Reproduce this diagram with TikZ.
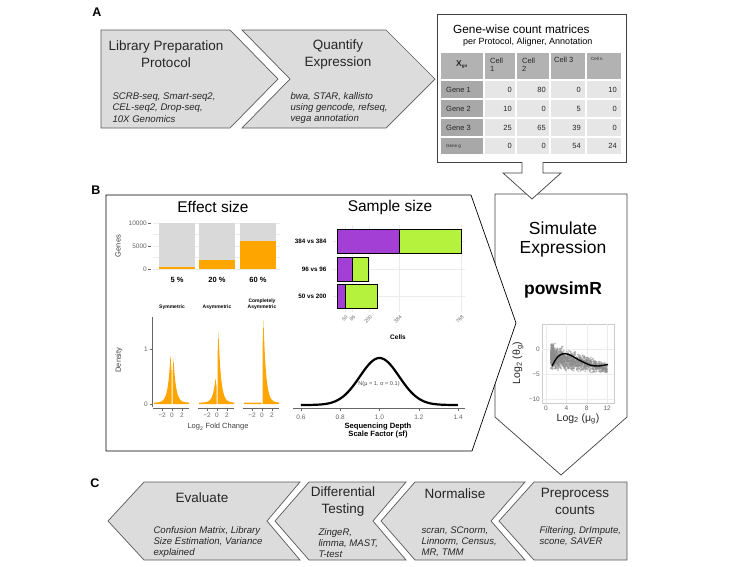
\documentclass[tikz,border=0pt]{standalone}
\usepackage{fontspec}
\setmainfont{Liberation Sans}
\usetikzlibrary{positioning}
\definecolor{chevgray}{HTML}{DCDCDC}
\definecolor{hdrgray}{HTML}{B2B2B2}
\definecolor{rowgray}{HTML}{A8A8A8}
\definecolor{cellgray}{HTML}{E6E6E6}
\definecolor{orng}{HTML}{FFA500}
\definecolor{purp}{HTML}{A43FD6}
\definecolor{lime}{HTML}{B5F23E}
\definecolor{bargray}{HTML}{D9D9D9}

\begin{document}
\begin{tikzpicture}[x=1pt, y=-1pt,
  chev/.style={draw=black!65, fill=chevgray, line width=0.7pt},
  outline/.style={draw=black!75, fill=white, line width=0.7pt},
  head/.style={font=\fontsize{13.5}{17}\selectfont, align=center, text=black!85},
  tools/.style={font=\fontsize{9.6}{11.2}\selectfont\itshape, align=left, anchor=west, text=black!85},
  panlab/.style={font=\fontsize{12.5}{14}\selectfont\bfseries},
  ptitle/.style={font=\fontsize{15.5}{17}\selectfont},
  cell/.style={font=\fontsize{7.5}{8.5}\selectfont, inner sep=1pt, text=black!85},
  tinycell/.style={font=\fontsize{4.5}{5}\selectfont, inner sep=1pt, text=black!85},
  tick/.style={font=\fontsize{6.5}{7}\selectfont, text=black!60, inner sep=1pt},
  axlab/.style={font=\fontsize{7.5}{8}\selectfont, text=black!75},
  boldlab/.style={font=\fontsize{7}{7.5}\selectfont\bfseries, align=center},
  gridln/.style={draw=black!8, line width=0.4pt},
  axln/.style={draw=black!60, line width=0.5pt}]
\useasboundingbox (0,0) rectangle (739,566);

% A
\node[panlab] (labA) at (97,12) {A};
\draw[chev] (101,30) -- (230,30) -- (278,79) -- (230,128) -- (101,128) -- cycle;
\draw[chev] (242,30) -- (386,30) -- (435,79) -- (386,128) -- (242,128) -- (290,79) -- cycle;
\node[head] (libprep) at (166,54) {Library Preparation\\Protocol};
\node[tools] (protocols) at (109,107.5) {SCRB-seq, Smart-seq2,\\CEL-seq2, Drop-seq,\\10X Genomics};
\node[head] (quant) at (338,55) {Quantify\\Expression};
\node[tools] (aligners) at (287,108) {bwa, STAR, kallisto\\using gencode, refseq,\\vega annotation};

\draw[outline, fill=none] (522,162) -- (437,162) -- (437,14) -- (626,14) -- (626,162) -- (543,162);
\node[font=\fontsize{11.8}{13}\selectfont, anchor=west, inner sep=0pt] (mattitle) at (453,29) {Gene-wise count matrices};
\node[font=\fontsize{9}{10}\selectfont, anchor=west, inner sep=0pt] (matsub) at (463,42) {per Protocol, Aligner, Annotation};
\foreach \xa/\xb [count=\c] in {440/484,484/516,516/550,550/586,586/622}
  \foreach \ya/\yb [count=\r] in {52/80,80/99,99/118,118/137,137/155} {
    \ifnum\r=1 \def\cc{hdrgray}\else\ifnum\c=1 \def\cc{rowgray}\else\def\cc{cellgray}\fi\fi
    \fill[\cc] (\xa+0.8,\ya+0.8) rectangle (\xb-0.8,\yb-0.8);
  }
\node[cell, font=\fontsize{8.5}{9}\selectfont\bfseries] (xgn) at (462,65) {X\textsubscript{\fontsize{4.5}{5}\selectfont gn}};
\node[cell, anchor=west, align=left] (cell1) at (489,65) {Cell\\1};
\node[cell, anchor=west, align=left] (cell2) at (521,65) {Cell\\2};
\node[cell, anchor=west] (cell3) at (553,60) {Cell 3};
\node[tinycell, anchor=west] (celln) at (590,59) {Cell n};
\foreach \g/\y in {1/89.5,2/108.5,3/127.5}
  \node[cell, anchor=west] (gene\g) at (445,\y) {Gene \g};
\node[tinycell, anchor=west] (geneg) at (445,146) {Gene g};
\foreach \v/\xr [count=\k] in {0/513,80/547,0/582,10/618} \node[cell, anchor=east] (ga\k) at (\xr,89.5) {\v};
\foreach \v/\xr [count=\k] in {10/513,0/547,5/582,0/618} \node[cell, anchor=east] (gb\k) at (\xr,108.5) {\v};
\foreach \v/\xr [count=\k] in {25/513,65/547,39/582,0/618} \node[cell, anchor=east] (gc\k) at (\xr,127.5) {\v};
\foreach \v/\xr [count=\k] in {0/513,0/547,54/582,24/618} \node[cell, anchor=east] (gd\k) at (\xr,146) {\v};

% simulate
\draw[outline] (495,194) -- (627,194) -- (627,417) -- (561,475) -- (495,417) -- cycle;
\node[font=\fontsize{17.5}{19}\selectfont, align=center] (simexpr) at (563,239.5) {Simulate\\Expression};
\node[font=\fontsize{17.5}{19}\selectfont\bfseries] (powsim) at (563,290) {powsimR};
\begin{scope}
  \draw[draw=black!20, line width=0.4pt] (542,324) rectangle (614,403);
  \foreach \gx in {546,566.4,586.8,607.2} \draw[gridln] (\gx,324) -- (\gx,403);
  \foreach \gy in {349,374,399} \draw[gridln] (542,\gy) -- (614,\gy);
  \clip (542,324) rectangle (614,403);
  \pgfmathsetseed{11}
  \foreach \i in {1,...,1400} {
    \pgfmathsetmacro\px{1+11*rnd^1.6}
    \pgfmathsetmacro\py{-1.3-0.22*\px+(1.1-0.055*\px)*(rand+rand+rand)}
    \fill[black!45, opacity=0.5] ({546+5.1*\px},{349-5*\py}) circle (1.05);
  }
  \draw[line width=1.4pt] plot[smooth] coordinates {(552,366) (556,359) (560,355) (565,353.5) (571,355.5) (580,360.5) (590,365) (598,366) (608,364.5)};
\end{scope}
\foreach \v/\s in {349/0,374/−5,399/−10} \node[tick, anchor=east] (sy\v) at (541,\v) {\s};
\foreach \v/\s in {546/0,566.4/4,586.8/8,607.2/12} \node[tick] (sx\s) at (\v,408.5) {\s};
\node[font=\fontsize{10.5}{11}\selectfont, text=black!85] (mulab) at (578,419) {Log\textsubscript{2} (μ\textsubscript{g})};
\node[font=\fontsize{10.5}{11}\selectfont, text=black!85, rotate=90] (thetalab) at (518,363) {Log\textsubscript{2} (θ\textsubscript{g})};

% B
\node[panlab] (labB) at (96,190) {B};
\draw[outline, draw=black] (106,195) -- (471,195) -- (516,323) -- (472,451) -- (106,451) -- cycle;
\node[ptitle] (effect) at (213,207) {Effect size};
\node[ptitle] (sample) at (390,207) {Sample size};

\foreach \v in {0,2500,...,10000} \draw[gridln] (153,{269-\v*0.0046}) -- (280,{269-\v*0.0046});
\foreach \v in {0,5000,10000} {
  \draw[axln] (148,{269-\v*0.0046}) -- (150.5,{269-\v*0.0046});
  \node[tick, anchor=east] (gy\v) at (148,{269-\v*0.0046}) {\v};
}
\node[axlab, rotate=90] (geneslab) at (118,246) {Genes};
\foreach \xa/\xb/\p/\lab [count=\k] in {159/195/5/5 \%,199/235/20/20 \%,240/276/60/60 \%} {
  \fill[bargray] (\xa,223) rectangle (\xb,269);
  \fill[orng] (\xa,269) rectangle (\xb,{269-\p*0.46});
  \node[boldlab, font=\fontsize{7.5}{8}\selectfont\bfseries] (pct\k) at ({(\xa+\xb)/2},280) {\lab};
}

\node[boldlab, font=\fontsize{5}{5.5}\selectfont\bfseries] (symm) at (172,307) {Symmetric};
\node[boldlab, font=\fontsize{5}{5.5}\selectfont\bfseries] (asymm) at (217,307) {Asymmetric};
\node[boldlab, font=\fontsize{5}{5.5}\selectfont\bfseries] (casymm) at (262,304) {Completely\\Asymmetric};
\draw[axln] (152,317) -- (152,407);
\foreach \v/\s in {349/1,404/0} {
  \draw[axln] (149.5,\v) -- (152,\v);
  \node[tick, anchor=east] (dy\s) at (149,\v) {\s};
}
\node[axlab, rotate=90] (denslab) at (119,360) {Density};
\foreach \cx/\hl/\hr [count=\k] in {172/0.88/0.80,217/0.45/1.28,262/0/1.5} {
  \fill[orng] ({\cx-18},404) -- plot[domain=-3.6:-0.1, samples=50] ({\cx+5*\x},{404-55*(0.025+\hl*exp(-2.0*abs(abs(\x)-0.3)))}) -- ({\cx-0.5},404) -- cycle;
  \fill[orng] ({\cx+0.5},404) -- plot[domain=0.1:3.4, samples=50] ({\cx+5*\x},{404-55*(0.025+\hr*exp(-2.0*abs(\x-0.3)))}) -- ({\cx+17},404) -- cycle;
  \draw[axln] ({\cx-19},408) -- ({\cx+17},408);
  \foreach \t/\s in {-2/−2,0/0,2/2} {
    \draw[axln] ({\cx+5*\t},408) -- ({\cx+5*\t},410.5);
    \node[tick, inner sep=0pt] at ({\cx+5*\t},415.5) {\s};
  }
}
\node[axlab] (lfclab) at (218,427) {Log\textsubscript{2} Fold Change};

\foreach \c in {50,96,200,384,768} \draw[gridln] ({337+\c*0.1615},225) -- ({337+\c*0.1615},312);
\foreach \y in {241,269,296} \draw[gridln] (333,\y) -- (465,\y);
\foreach \ya/\yb/\np/\nt/\lab [count=\k] in {229/253/384/768/384 vs 384,257/281/96/192/96 vs 96,284/308/50/250/50 vs 200} {
  \filldraw[fill=purp, draw=black, line width=0.9pt] (337,\ya) rectangle ({337+\np*0.1615},\yb);
  \filldraw[fill=lime, draw=black, line width=0.9pt] ({337+\np*0.1615},\ya) rectangle ({337+\nt*0.1615},\yb);
  \node[boldlab, font=\fontsize{6.3}{7}\selectfont\bfseries, anchor=east] (grp\k) at (330,{(\ya+\yb)/2}) {\lab};
}
\foreach \c in {50,96,200,384,768} \node[tick, rotate=45, anchor=east, inner sep=0pt, font=\fontsize{5}{5.5}\selectfont] (cx\c) at ({337+\c*0.1615+2},316) {\c};
\node[boldlab, font=\fontsize{6.5}{7}\selectfont\bfseries] (cellslab) at (398,337) {Cells};

\draw[line width=2.2pt] plot[domain=0.6:1.4, samples=80] ({379.5+196.5*(\x-1)},{405-47*exp(-((\x-1)*10)*((\x-1)*10)/2)});
\draw[axln] (293,408) -- (465,408);
\foreach \v in {0.6,0.8,1.0,1.2,1.4} {
  \draw[axln] ({379.5+196.5*(\v-1)},408) -- ({379.5+196.5*(\v-1)},410.5);
  \node[tick] at ({379.5+196.5*(\v-1)},417) {\v};
}
\node[tick, text=black!70, inner sep=0pt, font=\fontsize{5.6}{6}\selectfont] (normlab) at (379,384) {N(μ = 1, σ = 0.1)};
\node[boldlab, font=\fontsize{7.6}{7.8}\selectfont\bfseries] (sflab) at (378,430.5) {Sequencing Depth\\Scale Factor (sf)};

\filldraw[fill=white, draw=black!75, line width=0.7pt] (522,162) -- (522,173) -- (503,173) -- (532,199) -- (561,173) -- (543,173) -- (543,162);

% C
\node[panlab] (labC) at (95,483) {C};
\draw[chev] (108,521) -- (144,482) -- (300,482) -- (267,521) -- (300,560) -- (144,560) -- cycle;
\draw[chev] (275,521) -- (309,482) -- (406,482) -- (373,521) -- (406,560) -- (309,560) -- cycle;
\draw[chev] (381,521) -- (415,482) -- (525,482) -- (491,521) -- (525,560) -- (415,560) -- cycle;
\draw[chev] (499,521) -- (534,482) -- (627,482) -- (627,560) -- (534,560) -- cycle;
\node[head] (evaluate) at (202,498) {Evaluate};
\node[tools] (evaltools) at (150,542) {Confusion Matrix, Library\\Size Estimation, Variance\\explained};
\node[head] (difftest) at (343,501) {Differential\\Testing};
\node[tools] (detools) at (315,543) {ZingeR,\\limma, MAST,\\T-test};
\node[head] (normalise) at (455,494) {Normalise};
\node[tools] (normtools) at (418,542) {scran, SCnorm,\\Linnorm, Census,\\MR, TMM};
\node[head] (preproc) at (575,501) {Preprocess\\counts};
\node[tools] (pretools) at (536,536.5) {Filtering, DrImpute,\\scone, SAVER};
\end{tikzpicture}
\end{document}
